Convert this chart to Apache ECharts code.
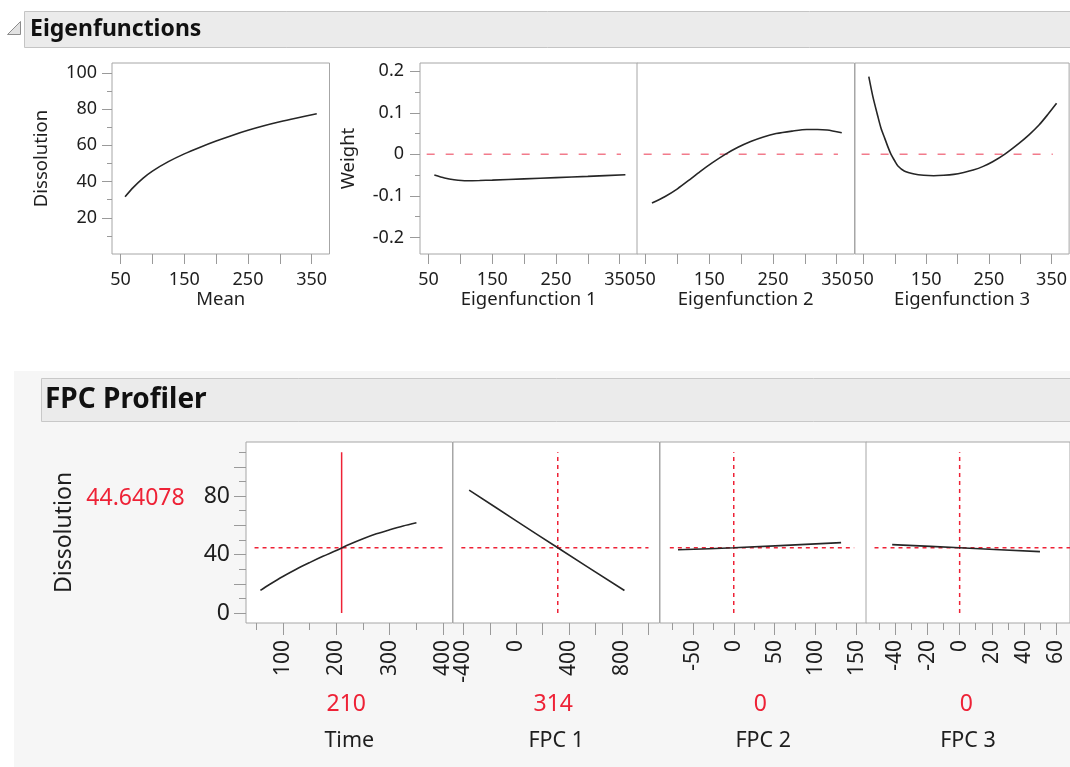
<!DOCTYPE html>
<html>
<head>
<meta charset="utf-8">
<script src="https://cdn.jsdelivr.net/npm/echarts@6/dist/echarts.min.js"></script>
<style>
html,body{margin:0;padding:0;background:#ffffff;}
#c{width:1070px;height:767px;}
</style>
</head>
<body>
<div id="c"></div>
<script>
// ---------------- DATA ----------------
const meanCurve = [[57,31.6],[70,36.8],[85,41.8],[100,45.8],[125,51.0],[150,55.3],[175,59.0],[200,62.4],[225,65.5],[250,68.3],[275,70.8],[300,73.0],[325,75.0],[358,77.5]];
const eigen1Curve = [[59,-0.050],[75,-0.057],[90,-0.061],[110,-0.0635],[130,-0.063],[150,-0.062],[200,-0.059],[250,-0.056],[300,-0.053],[359,-0.049]];
const eigen2Curve = [[60,-0.117],[80,-0.102],[100,-0.083],[120,-0.060],[135,-0.042],[155,-0.020],[175,0],[195,0.017],[215,0.031],[235,0.042],[255,0.050],[280,0.056],[303,0.060],[320,0.060],[335,0.0585],[358,0.052]];
const eigen3Curve = [[58.5,0.187],[65,0.139],[73,0.091],[78,0.063],[84,0.0385],[89,0.018],[94,0],[100,-0.016],[105,-0.028],[115,-0.040],[131,-0.0474],[146,-0.0505],[162,-0.0515],[178,-0.0505],[194,-0.0482],[210,-0.0435],[225,-0.0378],[241,-0.029],[256,-0.0178],[275,0],[298,0.0265],[314,0.047],[330,0.0706],[344,0.096],[358,0.123]];
const eigenZeroSpan = [47, 352];

const timeProfile = [[58,15.5],[75,19.5],[100,25],[125,30],[150,34.5],[175,38.8],[200,42.8],[225,47],[250,50.8],[275,54.2],[300,57],[325,59.6],[350,61.8]];
const fpc1Profile = [[-356,84.1],[0,63.1],[314,44.64],[818,15.4]];
const fpc2Profile = [[-68,43.3],[0,44.64],[131,48.2]];
const fpc3Profile = [[-42,46.8],[0,44.64],[50,42.0]];

const factorNames = ['Time', 'FPC 1', 'FPC 2', 'FPC 3'];
const currentSettings = [210, 314, 0, 0];
const predictedDissolution = 44.64078;
const crossHairSpans = [[47, 400], [-415, 1000], [-78, 147], [-53, 70]];
const crossHairHeight = [0, 110];

const eigenNames = ['Eigenfunction 1', 'Eigenfunction 2', 'Eigenfunction 3'];

// tick values / labels
const topXTicks = [50, 100, 150, 200, 250, 300, 350];
const topXLabels = [50, 150, 250, 350];
const meanYLabels = [20, 40, 60, 80, 100];
const meanYMinor = [10, 30, 50, 70, 90];
const weightYLabels = [-0.2, -0.1, 0, 0.1, 0.2];
const weightYMinor = [-0.15, -0.05, 0.05, 0.15];
const profYLabels = [0, 40, 80];
const profYTicks = [0, 20, 40, 60, 80, 100];
const profYMinor = [10, 30, 50, 70, 90, 110];
const profXLabels = [[100, 200, 300, 400], [-400, 0, 400, 800], [-50, 0, 50, 100, 150], [-40, -20, 0, 20, 40, 60]];
const profXTicks = [[100, 200, 300, 400], [-400, -200, 0, 200, 400, 600, 800, 1000], [-50, 0, 50, 100, 150], [-40, -20, 0, 20, 40, 60]];
const profXMinor = [[50, 150, 250, 350], [], [-75, -25, 25, 75, 125], [-50, -30, -10, 10, 30, 50]];

// ---------------- LAYOUT / STYLE ----------------
const FONT = 'Noto Sans';
const TXT = '#1e1e1e';
const RED = '#ee2236';
const TICKC = '#9a9a9a';
const topRange = [36.5, 378];
const meanYRange = [0, 105.5];
const weightRange = [-0.24, 0.22];
const profYRange = [-6.8, 117];
const profXRanges = [[31, 417.5], [-478, 1083], [-90, 162], [-58.3, 68.7]];

const chart = echarts.init(document.getElementById('c'), null, {renderer: 'canvas'});
const grids = [], xAxes = [], yAxes = [], series = [];

function addGrid(left, top, width, height) {
  grids.push({left: left, top: top, width: width, height: height, show: true, backgroundColor: '#ffffff',
    borderColor: '#a6a6a6', borderWidth: 1, containLabel: false});
  return grids.length - 1;
}
function axis(kind, g, range, ticks, labels, tickLen, labelOpt, extra) {
  const a = Object.assign({
    type: 'value', gridIndex: g, min: range[0], max: range[1],
    splitLine: {show: false},
    axisLine: {show: false, onZero: false},
    axisTick: {show: ticks.length > 0, customValues: ticks.length ? ticks : undefined, length: tickLen, lineStyle: {color: TICKC, width: 1}},
    axisLabel: Object.assign({show: labels.length > 0, customValues: labels.length ? labels : undefined, color: TXT, fontFamily: FONT}, labelOpt || {})
  }, extra || {});
  const list = kind === 'x' ? xAxes : yAxes;
  list.push(a);
  return list.length - 1;
}
function hiddenAxis(kind, g, range) {
  const list = kind === 'x' ? xAxes : yAxes;
  list.push({type: 'value', gridIndex: g, min: range[0], max: range[1], show: false, axisLine: {onZero: false}, splitLine: {show: false}});
  return list.length - 1;
}
function line(xi, yi, data, color, width, type, smooth) {
  series.push({type: 'line', xAxisIndex: xi, yAxisIndex: yi, data: data, showSymbol: false, symbol: 'none',
    smooth: smooth || false, silent: true, animation: false,
    lineStyle: {color: color, width: width, type: type || 'solid'}});
}

// ---- top section ----
const topTop = 63, topH = 191;
const topLefts = [112, 420, 637, 855];
const topW = 217.5;
topLefts.forEach(function (left, i) {
  const g = addGrid(left, topTop, topW, topH);
  const name = i === 0 ? 'Mean' : eigenNames[i - 1];
  const xi = axis('x', g, topRange, topXTicks, topXLabels, 10, {fontSize: 18, margin: 17},
    {position: 'bottom', name: name, nameLocation: 'middle', nameGap: 36,
     nameTextStyle: {fontSize: 18.5, color: TXT, fontFamily: FONT}});
  let yi;
  if (i === 0) {
    yi = axis('y', g, meanYRange, meanYLabels, meanYLabels, 10, {fontSize: 18, margin: 15},
      {position: 'left', name: 'Dissolution', nameLocation: 'middle', nameGap: 61,
       nameTextStyle: {fontSize: 18.5, color: TXT, fontFamily: FONT}});
    axis('y', g, meanYRange, meanYMinor, [], 5, {}, {position: 'left'});
    line(xi, yi, meanCurve, '#262626', 1.6, 'solid', 0.3);
  } else if (i === 1) {
    yi = axis('y', g, weightRange, weightYLabels, weightYLabels, 10, {fontSize: 18, margin: 16},
      {position: 'left', name: 'Weight', nameLocation: 'middle', nameGap: 62,
       nameTextStyle: {fontSize: 18.5, color: TXT, fontFamily: FONT}});
    axis('y', g, weightRange, weightYMinor, [], 5, {}, {position: 'left'});
  } else {
    yi = hiddenAxis('y', g, weightRange);
  }
  if (i > 0) {
    line(xi, yi, [[eigenZeroSpan[0], 0], [eigenZeroSpan[1], 0]], '#f27b8b', 1.5, [8, 11], false);
    const curve = [eigen1Curve, eigen2Curve, eigen3Curve][i - 1];
    line(xi, yi, curve, '#262626', 1.6, 'solid', 0.25);
  }
});

// ---- bottom (profiler) section ----
const botTop = 442, botH = 181;
const botLefts = [246, 453, 660, 866];
const botW = 206.5;
const profCurves = [timeProfile, fpc1Profile, fpc2Profile, fpc3Profile];
botLefts.forEach(function (left, i) {
  const g = addGrid(left, botTop, botW, botH);
  const xr = profXRanges[i];
  const xi = axis('x', g, xr, profXTicks[i], profXLabels[i], 12, {fontSize: 21, margin: 17, rotate: 90},
    {position: 'bottom', name: factorNames[i], nameLocation: 'middle', nameGap: 107,
     nameTextStyle: {fontSize: 21.5, color: TXT, fontFamily: FONT}});
  if (profXMinor[i].length) axis('x', g, xr, profXMinor[i], [], 7, {}, {position: 'bottom'});
  let yi;
  if (i === 0) {
    yi = axis('y', g, profYRange, profYTicks, profYLabels, 12, {fontSize: 23, margin: 16},
      {position: 'left', name: 'Dissolution', nameLocation: 'middle', nameGap: 170,
       nameTextStyle: {fontSize: 23, color: TXT, fontFamily: FONT}});
    axis('y', g, profYRange, profYMinor, [], 7, {}, {position: 'left'});
  } else {
    yi = hiddenAxis('y', g, profYRange);
  }
  // crosshairs
  line(xi, yi, [[crossHairSpans[i][0], predictedDissolution], [crossHairSpans[i][1], predictedDissolution]], RED, 1.5, [4, 4], false);
  line(xi, yi, [[currentSettings[i], crossHairHeight[0]], [currentSettings[i], crossHairHeight[1]]], RED, 1.5, i === 0 ? 'solid' : [4, 4], false);
  line(xi, yi, profCurves[i], '#262626', 1.6, 'solid', 0.3);
});

// ---------------- GRAPHICS (headers, value read-outs) ----------------
const graphic = [
  {type: 'rect', z: -100, shape: {x: 14, y: 371, width: 1080, height: 400}, style: {fill: '#f6f6f6'}},
  {type: 'rect', z: -90, shape: {x: 24.5, y: 11.5, width: 1060, height: 36}, style: {fill: '#ebebeb', stroke: '#c4c4c4', lineWidth: 1}},
  {type: 'polygon', shape: {points: [[20.5, 21.5], [20.5, 34.5], [7.5, 34.5]]}, style: {fill: '#e2e2e2', stroke: '#8c8c8c', lineWidth: 1}},
  {type: 'text', x: 30, y: 29, style: {text: 'Eigenfunctions', font: 'bold 23px "Noto Sans"', fill: '#111', textVerticalAlign: 'middle'}},
  {type: 'rect', z: -90, shape: {x: 41.5, y: 378.5, width: 1040, height: 43}, style: {fill: '#ebebeb', stroke: '#c8c8c8', lineWidth: 1}},
  {type: 'text', x: 45, y: 400, style: {text: 'FPC Profiler', font: 'bold 28px "Noto Sans"', fill: '#111', textVerticalAlign: 'middle'}},
  {type: 'text', x: 135.5, y: 498, style: {text: String(predictedDissolution), font: '23px "Noto Sans"', fill: RED, textAlign: 'center', textVerticalAlign: 'middle'}}
];
botLefts.forEach(function (left, i) {
  graphic.push({type: 'text', x: left + botW / 2 - 3, y: 704, style: {text: String(currentSettings[i]), font: '23px "Noto Sans"', fill: RED, textAlign: 'center', textVerticalAlign: 'middle'}});
});

chart.setOption({
  animation: false,
  backgroundColor: '#ffffff',
  textStyle: {fontFamily: FONT},
  grid: grids,
  xAxis: xAxes,
  yAxis: yAxes,
  series: series,
  graphic: graphic
});
</script>
</body>
</html>
